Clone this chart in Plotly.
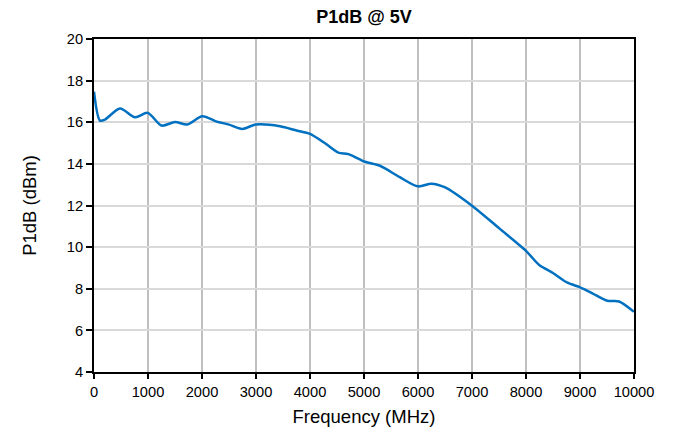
import plotly.graph_objects as go

freq_mhz = [0, 111, 204, 481, 759, 994, 1253, 1500, 1728, 2006, 2272, 2487, 2747, 2994,
            3444, 3753, 4000, 4278, 4524, 4710, 5019, 5296, 5662, 6000, 6247, 6494,
            7005, 7505, 8000, 8245, 8492, 8769, 9003, 9230, 9508, 9723, 10000]
p1db_dbm = [17.47, 16.08, 16.13, 16.66, 16.24, 16.45, 15.84, 16.01, 15.89, 16.29, 16.03, 15.90,
            15.68, 15.89, 15.81, 15.60, 15.44, 14.99, 14.54, 14.47, 14.10, 13.91, 13.36, 12.92,
            13.05, 12.88, 11.98, 10.90, 9.82, 9.14, 8.77, 8.29, 8.07, 7.78, 7.42, 7.39, 6.89]

x_ticks = list(range(0, 10001, 1000))
y_ticks = list(range(4, 21, 2))

fig = go.Figure()
fig.add_trace(go.Scatter(
    x=freq_mhz, y=p1db_dbm, mode="lines",
    line=dict(color="#0070C0", width=2.5, shape="spline", smoothing=0.8),
    showlegend=False,
))

font = "Liberation Sans, Arial, sans-serif"
fig.update_layout(
    width=674, height=431,
    margin=dict(l=86, r=48, t=31, b=67),
    paper_bgcolor="white", plot_bgcolor="white",
    font=dict(family=font, size=14.67, color="black"),
    title=dict(text="<b>P1dB @ 5V</b>", x=356 / 674, xanchor="center",
               y=1 - 9 / 431, yanchor="middle", font=dict(size=18, family=font)),
)
fig.update_xaxes(
    range=[0, 10000], tickvals=x_ticks, ticktext=[str(v) for v in x_ticks],
    showgrid=True, gridcolor="#BFBFBF", gridwidth=2,
    showline=True, linecolor="black", linewidth=2, mirror=True,
    ticks="outside", ticklen=5, tickcolor="black", tickwidth=1.5,
    title=dict(text="Frequency (MHz)", font=dict(size=18.5), standoff=11),
    zeroline=False,
)
fig.update_yaxes(
    range=[4, 20], tickvals=y_ticks, ticktext=[str(v) for v in y_ticks],
    showgrid=True, gridcolor="#D9D9D9", gridwidth=1.5,
    showline=True, linecolor="black", linewidth=2, mirror=True,
    ticks="outside", ticklen=6, tickcolor="black", tickwidth=1.5,
    title=dict(text="P1dB (dBm)", font=dict(size=18.5), standoff=25),
    zeroline=False,
)

fig.write_html("out.html")
